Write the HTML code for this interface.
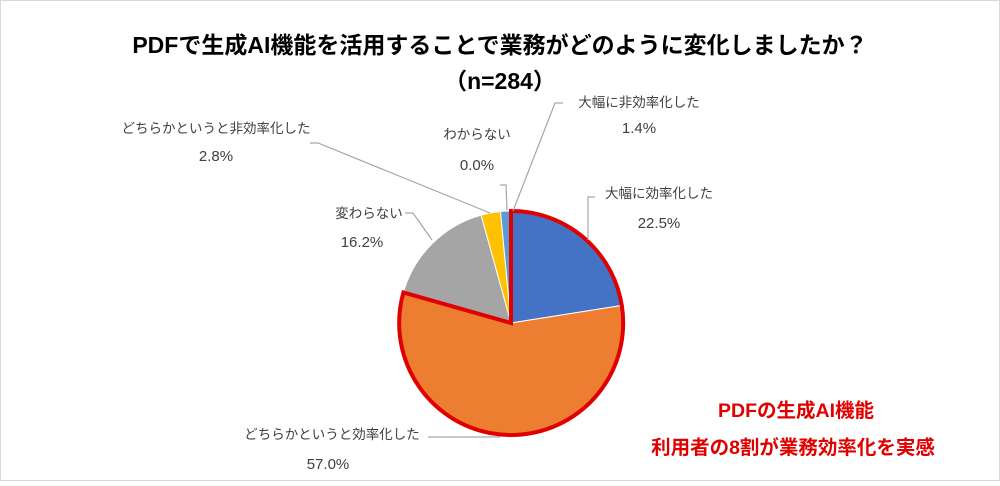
<!DOCTYPE html>
<html><head><meta charset="utf-8"><style>
body{margin:0;background:#fff;}
svg text{font-family:"Liberation Sans","Noto Sans CJK JP",sans-serif;}
</style></head><body>
<svg width="1000" height="481" viewBox="0 0 1000 481" xmlns="http://www.w3.org/2000/svg">
<rect x="0.5" y="0.5" width="999" height="480" fill="#fff" stroke="#d9d9d9"/>
<text x="500" y="53" text-anchor="middle" font-size="23" font-weight="bold" fill="#000">PDFで生成AI機能を活用することで業務がどのように変化しましたか？</text>
<text x="500" y="89" text-anchor="middle" font-size="23" font-weight="bold" fill="#000">（n=284）</text>
<g stroke="#fff" stroke-width="1">
<path d="M511,323 L511,211 A112,112 0 0 1 621.6,305.5 Z" fill="#4472c4"/>
<path d="M511,323 L621.6,305.5 A112,112 0 1 1 403.4,292.5 Z" fill="#ed7d31"/>
<path d="M511,323 L403.4,292.5 A112,112 0 0 1 481.1,215.1 Z" fill="#a5a5a5"/>
<path d="M511,323 L481.1,215.1 A112,112 0 0 1 500.5,211.5 Z" fill="#ffc000"/>
<path d="M511,323 L500.5,211.5 A112,112 0 0 1 511,211 Z" fill="#5b9bd5"/>
</g>
<path d="M511,323 L511,211 A112,112 0 1 1 403.4,292.5 Z" fill="none" stroke="#e00000" stroke-width="4" stroke-linejoin="miter"/>
<g stroke="#a6a6a6" stroke-width="1.2" fill="none">
<polyline points="310,143 318,143 490,213"/>
<polyline points="500,185 506,185 507,210"/>
<polyline points="563,103 555,103 513,211"/>
<polyline points="595,197 588,197 588,240"/>
<polyline points="405,213 413,213 432,240"/>
<polyline points="428,437 500,437"/>
</g>
<g font-size="13.5" fill="#404040">
<text x="216" y="133" text-anchor="middle">どちらかというと非効率化した</text>
<text x="477" y="139" text-anchor="middle">わからない</text>
<text x="639" y="107" text-anchor="middle">大幅に非効率化した</text>
<text x="659" y="198" text-anchor="middle">大幅に効率化した</text>
<text x="369" y="218" text-anchor="middle">変わらない</text>
<text x="332" y="439" text-anchor="middle">どちらかというと効率化した</text>
</g>
<g font-size="15" fill="#404040">
<text x="216" y="161" text-anchor="middle">2.8%</text>
<text x="477" y="170" text-anchor="middle">0.0%</text>
<text x="639" y="133" text-anchor="middle">1.4%</text>
<text x="659" y="228" text-anchor="middle">22.5%</text>
<text x="362" y="247" text-anchor="middle">16.2%</text>
<text x="328" y="469" text-anchor="middle">57.0%</text>
</g>
<text x="796" y="417" text-anchor="middle" font-size="19.5" font-weight="bold" fill="#e00000">PDFの生成AI機能</text>
<text x="793" y="454" text-anchor="middle" font-size="19.5" font-weight="bold" fill="#e00000">利用者の8割が業務効率化を実感</text>
</svg>
</body></html>
